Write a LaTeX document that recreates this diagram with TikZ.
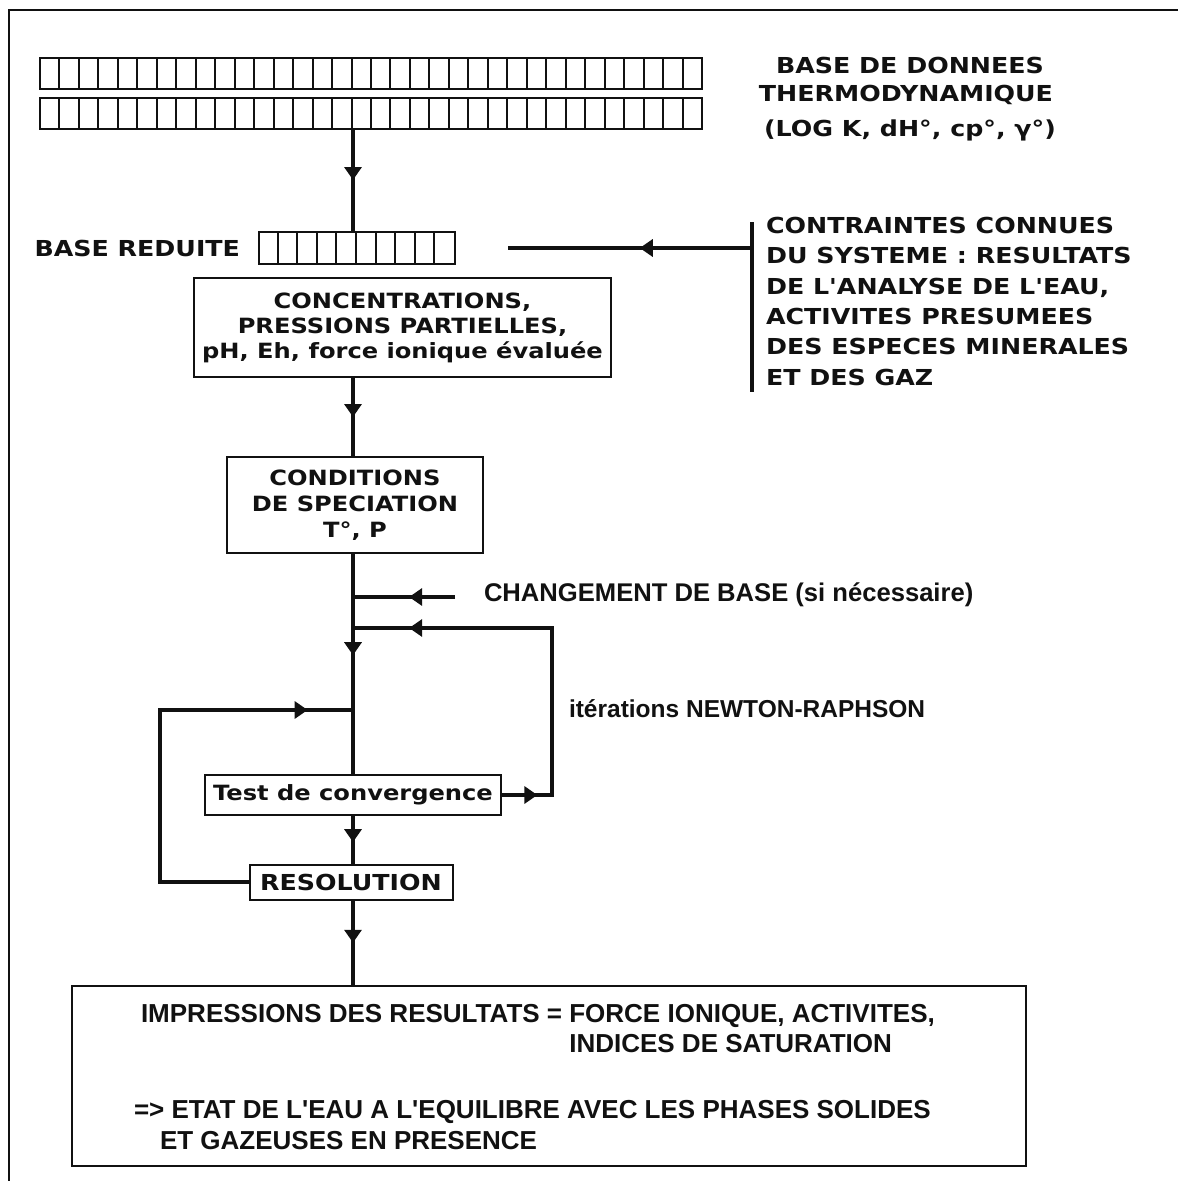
\documentclass[tikz,border=0pt]{standalone}
\usepackage{fontspec}
\usetikzlibrary{arrows.meta, positioning, calc, decorations.markings}
\newfontfamily\gfont{DejaVu Sans}[FakeStretch=1.15]
\newfontfamily\hfont{Liberation Sans}
\definecolor{ink}{HTML}{111111}

\tikzset{
  trunkline/.style={draw=ink, line width=4pt},
  cellline/.style={draw=ink, line width=2pt},
  flowbox/.style={draw=ink, line width=2pt, fill=white, inner sep=0pt, align=center, text=ink},
  flow/.style={postaction={decorate},
    decoration={markings, mark=at position #1 with {\arrow{>}}}},
  flow/.default=0.5,
  twoflow/.style 2 args={postaction={decorate},
    decoration={markings, mark=at position #1 with {\arrow{>}},
                          mark=at position #2 with {\arrow{>}}}},
}

\begin{document}
\begin{tikzpicture}[x=1pt, y=-1pt, >={Triangle[length=13pt, width=17pt]}, line width=2pt]

\useasboundingbox (0,0) rectangle (1178,1181);

% Frame (top and left edges)
\draw[ink, line width=2.5pt] (9,1181) -- (9,10) -- (1178,10);

% --- Thermodynamic database: two rows of cells ---
\foreach \ytop in {58,98}{
  \draw[cellline] (40,\ytop) rectangle (702,\ytop+31);
  \foreach \i in {1,...,33}
    \draw[cellline] ({40+\i*19.47},\ytop) -- ++(0,31);
}

\node[font=\gfont\bfseries\fontsize{22}{26}\selectfont, text=ink, anchor=base]
  (dbtitle) at (910,73) {BASE DE DONNEES};
\node[font=\gfont\bfseries\fontsize{22}{26}\selectfont, text=ink, anchor=base]
  (dbsub) at (906,101) {THERMODYNAMIQUE};
\node[font=\gfont\bfseries\fontsize{22}{26}\selectfont, text=ink, anchor=base]
  (dbparams) at (910,136) {(LOG K, dH°, cp°, γ°)};

% --- Reduced base ---
\node[cellline, draw, minimum width=196pt, minimum height=32pt, inner sep=0pt]
  (redbox) at (357,248) {};
\foreach \i in {1,...,9}
  \draw[cellline] ($(redbox.north west)+(\i*19.6,0)$) -- ($(redbox.south west)+(\i*19.6,0)$);
\node[font=\gfont\bfseries\fontsize{22}{26}\selectfont, text=ink, inner sep=0pt,
  left=17pt of redbox] (redlabel) {BASE REDUITE};

\coordinate (dbout) at (353,129);
\draw[trunkline, flow] (dbout) -- (dbout |- redbox.north);

% --- Known constraints ---
\coordinate (brtop) at (752,222);
\coordinate (brbot) at (752,392);
\coordinate (cin) at (508,248);
\draw[trunkline] (brtop) -- (brbot);
\draw[trunkline, flow=0.46] (brtop |- cin) -- (cin);
\node[font=\gfont\bfseries\fontsize{22}{30.4}\selectfont, text=ink, inner sep=0pt,
  anchor=north west, align=left] (constr) at (765,216)
  {CONTRAINTES CONNUES\\DU SYSTEME : RESULTATS\\DE L'ANALYSE DE L'EAU,\\
   ACTIVITES PRESUMEES\\DES ESPECES MINERALES\\ET DES GAZ};

% --- Boxes ---
\node[flowbox, minimum width=417pt, minimum height=99pt,
  font=\gfont\bfseries\fontsize{21}{25}\selectfont] (conc) at (402.5,327.5)
  {CONCENTRATIONS,\\PRESSIONS PARTIELLES,\\pH, Eh, force ionique évaluée};

\node[flowbox, minimum width=256pt, minimum height=96pt,
  font=\gfont\bfseries\fontsize{21}{26}\selectfont] (cond) at (355,505)
  {CONDITIONS\\DE SPECIATION\\T°, P};

\node[flowbox, minimum width=296pt, minimum height=40pt,
  font=\gfont\bfseries\fontsize{21}{25}\selectfont] (test) at (353,795)
  {Test de convergence};

\node[flowbox, minimum width=203pt, minimum height=35pt,
  font=\gfont\bfseries\fontsize{22}{26}\selectfont] (res) at (351,882)
  {RESOLUTION};

\node[flowbox, minimum width=954pt, minimum height=180pt] (result) at (549,1076) {};

% --- Main trunk ---
\coordinate (trunk) at (353,0);
\coordinate (jbase) at (353,597);
\coordinate (jloop) at (353,628);
\coordinate (jleft) at (353,710);
\draw[trunkline, flow] (trunk |- conc.south) -- (trunk |- cond.north);
\draw[trunkline, flow=0.46] (trunk |- cond.south) -- (test.north);
\draw[trunkline, flow=0.55] (test.south) -- (trunk |- res.north);
\draw[trunkline, flow=0.5] (trunk |- res.south) -- (trunk |- result.north);

% Change of base
\coordinate (chgend) at (455,597);
\draw[trunkline, flow=0.45] (chgend) -- (jbase);
\node[font=\hfont\bfseries\fontsize{25.6}{30}\selectfont, text=ink, inner sep=0pt,
  anchor=west] (chgtext) at (483,595) {CHANGEMENT DE BASE (si nécessaire)};

% Newton-Raphson loop
\coordinate (nrcorner) at (552,628);
\draw[trunkline, twoflow={0.085}{0.865}] (test.east) -| (nrcorner) -- (jloop);
\node[font=\hfont\bfseries\fontsize{24.5}{30}\selectfont, text=ink, inner sep=0pt,
  anchor=west] (nrtext) at (568,709) {itérations NEWTON-RAPHSON};

% Return loop from resolution
\coordinate (lcorner) at (160,710);
\draw[trunkline, flow=0.9] (res.west) -| (lcorner) -- (jleft);

% --- Output text ---
\node[font=\hfont\bfseries\fontsize{26}{30}\selectfont, text=ink, inner sep=0pt,
  anchor=base west] (outa) at (140,1022)
  {IMPRESSIONS DES RESULTATS = FORCE IONIQUE, ACTIVITES,};
\node[font=\hfont\bfseries\fontsize{26}{30}\selectfont, text=ink, inner sep=0pt,
  anchor=base west] (outb) at ($(outa.base west)+(0,30)$)
  {\phantom{IMPRESSIONS DES RESULTATS = }INDICES DE SATURATION};
\node[font=\hfont\bfseries\fontsize{26}{30}\selectfont, text=ink, inner sep=0pt,
  anchor=base west] (outc) at (133,1118)
  {=> ETAT DE L'EAU A L'EQUILIBRE AVEC LES PHASES SOLIDES};
\node[font=\hfont\bfseries\fontsize{26}{30}\selectfont, text=ink, inner sep=0pt,
  anchor=base west] (outd) at ($(outc.base west)+(0,31)$)
  {\hspace*{1em}ET GAZEUSES EN PRESENCE};

\end{tikzpicture}
\end{document}
